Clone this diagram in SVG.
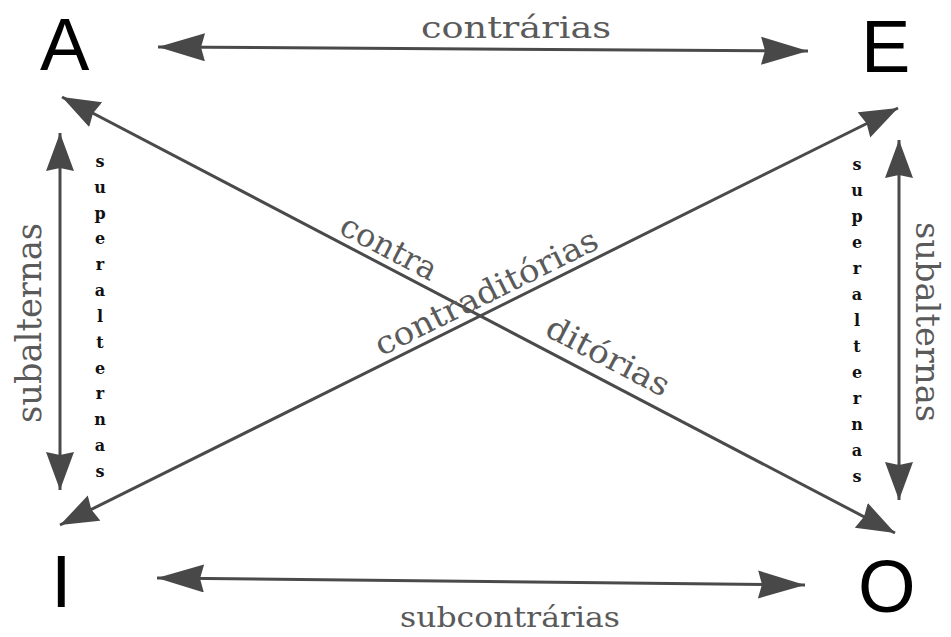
<svg xmlns="http://www.w3.org/2000/svg" width="951" height="637" viewBox="0 0 951 637">
<defs>
<style>
.ln{stroke:#4a4a4a;stroke-width:3;fill:none}
.lh{marker-start:url(#ahH);marker-end:url(#ahH)}
.ld{marker-start:url(#ahD);marker-end:url(#ahD)}
.big{font-family:"Liberation Sans",Arial,sans-serif;font-size:74px;fill:#000}
.lab{font-family:"DejaVu Serif","Liberation Serif",serif;fill:#5a5a5a}
.sup{font-family:"DejaVu Serif","Liberation Serif",serif;font-size:16px;font-weight:bold;fill:#111;text-anchor:middle}
</style>
<marker id="ahH" markerUnits="userSpaceOnUse" markerWidth="48" markerHeight="30" refX="47" refY="14" orient="auto-start-reverse" viewBox="0 0 48 30">
<path d="M0,0 L47,14 L0,28 L4,14 z" fill="#484848"/>
</marker>
<marker id="ahD" markerUnits="userSpaceOnUse" markerWidth="40" markerHeight="30" refX="38" refY="14" orient="auto-start-reverse" viewBox="0 0 40 30">
<path d="M0,0 L38,14 L0,28 L3,14 z" fill="#484848"/>
</marker>
</defs>
<rect width="951" height="637" fill="#fff"/>

<g id="node-A"><text class="big" x="40" y="70">A</text></g>
<g id="node-E"><text class="big" x="861" y="72">E</text></g>
<g id="node-I"><text class="big" x="51" y="607">I</text></g>
<g id="node-O"><text class="big" x="858" y="612">O</text></g>

<g id="connectors">
<path class="ln lh" d="M158,47 L808,51"/>
<path class="ln lh" d="M157,578 L805,585"/>
<path class="ln ld" d="M60,133 L60,490"/>
<path class="ln ld" d="M899,140 L899,500"/>
<path class="ln ld" d="M62,97 L895,533"/>
<path class="ln ld" d="M898,108 L60,525"/>
</g>

<g id="labels">
<text class="lab" x="516" y="38" font-size="30" text-anchor="middle" textLength="190" lengthAdjust="spacingAndGlyphs">contrárias</text>
<text class="lab" x="510" y="627" font-size="28" text-anchor="middle" textLength="220" lengthAdjust="spacingAndGlyphs">subcontrárias</text>
<text class="lab" font-size="36" text-anchor="middle" textLength="200" lengthAdjust="spacingAndGlyphs" transform="translate(41,323) rotate(-90)" x="0" y="0">subalternas</text>
<text class="lab" font-size="34" text-anchor="middle" textLength="200" lengthAdjust="spacingAndGlyphs" transform="translate(916,322) rotate(90)" x="0" y="0">subalternas</text>
<text class="lab" font-size="32" text-anchor="middle" textLength="105" lengthAdjust="spacingAndGlyphs" transform="translate(384,257) rotate(27.6)" x="0" y="0">contra</text>
<text class="lab" font-size="32" text-anchor="middle" textLength="135" lengthAdjust="spacingAndGlyphs" transform="translate(603,366) rotate(27.6)" x="0" y="0">ditórias</text>
<text class="lab" font-size="32" text-anchor="middle" textLength="245" lengthAdjust="spacingAndGlyphs" transform="translate(491,302) rotate(-26.45)" x="0" y="0">contraditórias</text>
</g>

<g id="superalternas-left">
<text class="sup" x="100" y="167">s</text>
<text class="sup" x="100" y="193">u</text>
<text class="sup" x="100" y="219">p</text>
<text class="sup" x="100" y="244">e</text>
<text class="sup" x="100" y="270">r</text>
<text class="sup" x="100" y="296">a</text>
<text class="sup" x="100" y="322">l</text>
<text class="sup" x="100" y="348">t</text>
<text class="sup" x="100" y="374">e</text>
<text class="sup" x="100" y="399">r</text>
<text class="sup" x="100" y="425">n</text>
<text class="sup" x="100" y="451">a</text>
<text class="sup" x="100" y="477">s</text>
</g>
<g id="superalternas-right">
<text class="sup" x="857" y="170">s</text>
<text class="sup" x="857" y="196">u</text>
<text class="sup" x="857" y="222">p</text>
<text class="sup" x="857" y="248">e</text>
<text class="sup" x="857" y="274">r</text>
<text class="sup" x="857" y="300">a</text>
<text class="sup" x="857" y="326">l</text>
<text class="sup" x="857" y="352">t</text>
<text class="sup" x="857" y="378">e</text>
<text class="sup" x="857" y="404">r</text>
<text class="sup" x="857" y="430">n</text>
<text class="sup" x="857" y="456">a</text>
<text class="sup" x="857" y="482">s</text>
</g>
</svg>
